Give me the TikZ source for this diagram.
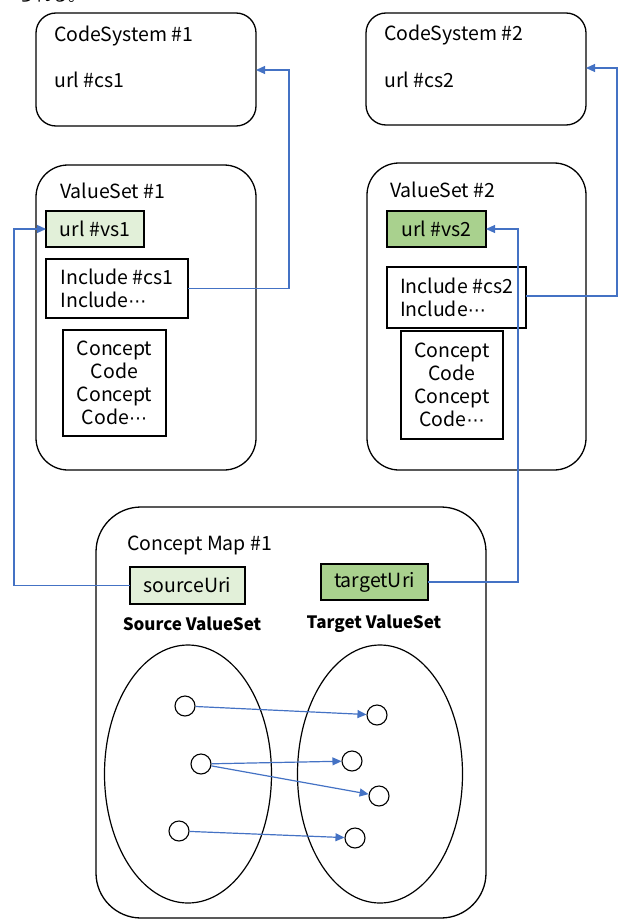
\documentclass[tikz,border=0pt]{standalone}
\usepackage{fontspec}
\setmainfont{Noto Sans CJK JP}
\newfontfamily\dejavu{DejaVu Sans}
\newcommand{\mdots}{{\dejavu\fontsize{18}{18}\selectfont ⋯}}
\usetikzlibrary{arrows.meta,shapes.geometric}
\definecolor{conn}{HTML}{4472C4}
\definecolor{lgreen}{HTML}{E2F0D9}
\definecolor{mgreen}{HTML}{A9D18E}
\tikzset{
  every node/.style={font=\fontsize{19.5}{23}\selectfont},
  rbox/.style={draw, line width=1.3pt, rounded corners=#1, anchor=north west, inner sep=0pt, outer sep=0pt},
  sbox/.style={draw, line width=1.2pt, anchor=north west, inner sep=0pt, outer sep=0pt},
  lbl/.style={anchor=west, inner sep=0pt},
  conarrow/.style={draw=conn, line width=1.2pt, -{Triangle[length=9pt,width=8pt]}},
  dot/.style={circle, draw, line width=1.1pt, minimum size=20pt, inner sep=0pt},
  boldlbl/.style={font=\fontsize{17}{20}\selectfont\bfseries, inner sep=0pt},
}
\begin{document}
\begin{tikzpicture}[x=1pt,y=-1pt]
\useasboundingbox (0,0) rectangle (619,920);
% clipped fragment at top
\node[anchor=west, inner sep=0pt, font=\fontsize{17}{19}\selectfont] (frag) at (17,-5) {られる。};
% CodeSystems
\node[rbox=20pt, minimum width=220, minimum height=113] (cs1) at (36,13) {};
\node[lbl] (cs1t) at (54,36) {CodeSystem \#1};
\node[lbl] (cs1u) at (54,80) {url \#cs1};
\node[rbox=20pt, minimum width=220, minimum height=112] (cs2) at (366,13) {};
\node[lbl] (cs2t) at (384,35) {CodeSystem \#2};
\node[lbl] (cs2u) at (384,80) {url \#cs2};
% ValueSet 1
\node[rbox=32pt, minimum width=220, minimum height=305] (vs1) at (36,165) {};
\node[lbl] (vs1t) at (60,191) {ValueSet \#1};
\node[sbox, fill=lgreen, minimum width=98, minimum height=36] (vs1url) at (46,211) {url \#vs1};
\node[sbox, minimum width=142, minimum height=59, align=left] (vs1inc) at (46,259) {Include \#cs1\\Include\mdots};
\node[sbox, minimum width=103, minimum height=106, align=center] (vs1con) at (63,330) {Concept\\Code\\Concept\\Code\mdots};
% ValueSet 2
\node[rbox=32pt, minimum width=219, minimum height=307] (vs2) at (367,163) {};
\node[lbl] (vs2t) at (390,190) {ValueSet \#2};
\node[sbox, fill=mgreen, minimum width=99, minimum height=36] (vs2url) at (387,211) {url \#vs2};
\node[sbox, minimum width=139, minimum height=61, align=left] (vs2inc) at (387,267) {Include \#cs2\\Include\mdots};
\node[sbox, minimum width=102, minimum height=108, align=center] (vs2con) at (401,331) {Concept\\Code\\Concept\\Code\mdots};
% Concept map
\node[rbox=45pt, minimum width=390, minimum height=411] (cm) at (96,507) {};
\node[lbl] (cmt) at (127,545) {Concept Map \#1};
\node[sbox, fill=lgreen, minimum width=115, minimum height=37] (src) at (130,567) {sourceUri};
\node[sbox, fill=mgreen, minimum width=107, minimum height=36] (tgt) at (321,564) {targetUri};
\node[boldlbl] (srcl) at (192,624) {Source ValueSet};
\node[boldlbl] (tgtl) at (374,624) {Target ValueSet};
\node[ellipse, draw, line width=1.2pt, minimum width=167, minimum height=258, inner sep=0pt] (le) at (188,774) {};
\node[ellipse, draw, line width=1.2pt, minimum width=165, minimum height=258, inner sep=0pt] (re) at (380,774) {};
\node[dot] (s1) at (185,706) {};
\node[dot] (s2) at (201,764) {};
\node[dot] (s3) at (179,831) {};
\node[dot] (t1) at (377,715) {};
\node[dot] (t2) at (352,761) {};
\node[dot] (t3) at (379,796) {};
\node[dot] (t4) at (355,838) {};
\draw[conarrow] (s1) -- (t1);
\draw[conarrow] (s2) -- (t2);
\draw[conarrow] (s2) -- (t3);
\draw[conarrow] (s3) -- (t4);
% connectors
\draw[conarrow] (vs1inc.east) -| (289,70) -- (cs1.east |- 0,70);
\draw[conarrow] (vs2inc.east |- 0,296) -| (617,68) -- (cs2.east |- 0,68);
\draw[conarrow] (src.west) -| (14,229) -- (vs1url.west);
\draw[conarrow] (tgt.east) -| (518,229) -- (vs2url.east);
\end{tikzpicture}
\end{document}
